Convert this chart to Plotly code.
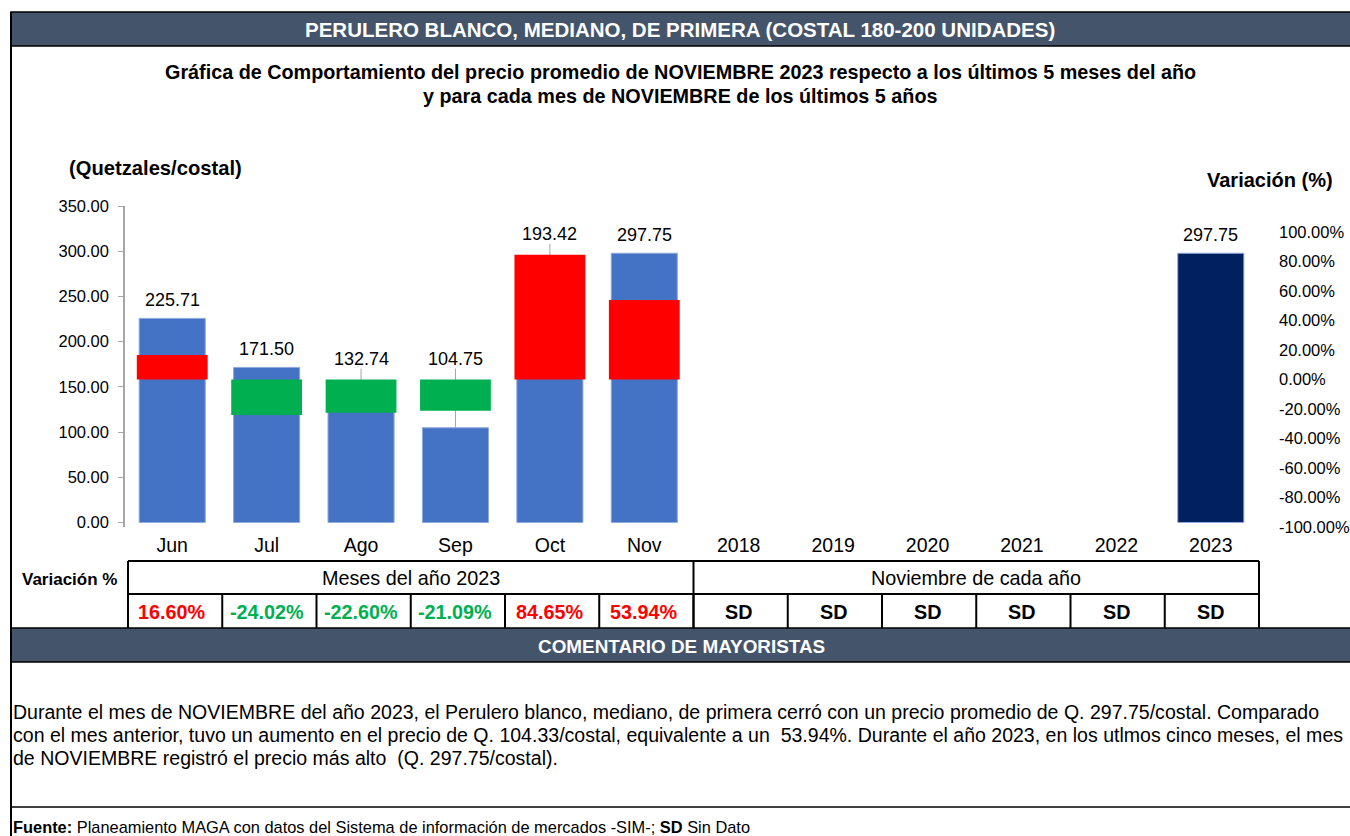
import plotly.graph_objects as go

# ---------------- data ----------------
categories = ["Jun", "Jul", "Ago", "Sep", "Oct", "Nov",
              "2018", "2019", "2020", "2021", "2022", "2023"]
prices = [225.71, 171.50, 132.74, 104.75, 193.42, 297.75,
          None, None, None, None, None, 297.75]
month_cats = ["Jun", "Jul", "Ago", "Sep", "Oct", "Nov"]
variations = [16.60, -24.02, -22.60, -21.09, 84.65, 53.94]
year_cats = ["2018", "2019", "2020", "2021", "2022", "2023"]
year_variation_text = ["SD", "SD", "SD", "SD", "SD", "SD"]
left_ticks = [0, 50, 100, 150, 200, 250, 300, 350]
right_ticks = [-100, -80, -60, -40, -20, 0, 20, 40, 60, 80, 100]

header = "PERULERO BLANCO, MEDIANO, DE PRIMERA (COSTAL 180-200 UNIDADES)"
title1 = "Gráfica de Comportamiento del precio promedio de NOVIEMBRE 2023 respecto a los últimos 5 meses del año"
title2 = "y para cada mes de NOVIEMBRE de los últimos 5 años"
comment_lines = [
    "Durante el mes de NOVIEMBRE del año 2023, el Perulero blanco, mediano, de primera cerró con un precio promedio de Q. 297.75/costal. Comparado",
    "con el mes anterior, tuvo un aumento en el precio de Q. 104.33/costal, equivalente a un  53.94%. Durante el año 2023, en los utlmos cinco meses, el mes",
    "de NOVIEMBRE registró el precio más alto  (Q. 297.75/costal).",
]
source = "<b>Fuente:</b> Planeamiento MAGA con datos del Sistema de información de mercados -SIM-; <b>SD</b> Sin Dato"

# ---------------- layout constants ----------------
W, H = 1350, 836
ML, MR, MT, MB = 125, 92, 206, 309
PW, PH = W - ML - MR, H - MT - MB
Y_RANGE = [-5, 350]
Y2_RANGE = [-100, 117.7]
FONT = "Liberation Sans, Arial, sans-serif"
DARK = "#44546A"
BLUE = "#4472C4"
NAVY = "#002060"
RED = "#FF0000"
GREEN = "#00B050"


def PX(x):
    return (x - ML) / PW


def PY(y):
    return (H - MB - y) / PH


def y2_to_y(v):
    return Y_RANGE[0] + (v - Y2_RANGE[0]) / (Y2_RANGE[1] - Y2_RANGE[0]) * (Y_RANGE[1] - Y_RANGE[0])


def cat_idx(c):
    return categories.index(c)


px_per_unit = PH / (Y_RANGE[1] - Y_RANGE[0])

fig = go.Figure()

bar_colors = [NAVY if c == "2023" else BLUE for c in categories]
fig.add_trace(go.Bar(
    x=categories, y=prices, width=0.70,
    marker=dict(color=bar_colors, line=dict(color="#8EA9DB", width=1)),
    yaxis="y", showlegend=False, hoverinfo="skip"))

# leader lines + data labels
annotations = []
for c, p in zip(categories, prices):
    if p is None:
        continue
    top = p
    moved = False
    if c in month_cats:
        v = variations[month_cats.index(c)]
        vt = y2_to_y(max(v, 0))
        if vt > p:
            top = vt
            moved = True
    shift = 21 if moved else 18
    if moved:
        end = top + (shift - 10) / px_per_unit
        fig.add_trace(go.Scatter(
            x=[c, c], y=[p, end], mode="lines",
            line=dict(color="#A6A6A6", width=1),
            yaxis="y", showlegend=False, hoverinfo="skip"))
    annotations.append(dict(
        x=cat_idx(c), y=top, xref="x", yref="y", yshift=shift, text=f"{p:.2f}",
        font=dict(family=FONT, size=18, color="#000000")))

var_colors = [RED if v > 0 else GREEN for v in variations]
fig.add_trace(go.Bar(
    x=month_cats, y=variations, base=0, width=0.75,
    marker=dict(color=var_colors, line=dict(width=0)),
    yaxis="y2", showlegend=False, hoverinfo="skip"))

# ---------------- shapes (frame / table) ----------------
shapes = []


def rect(x0, y0, x1, y1, fill, lw=1.5):
    shapes.append(dict(type="rect", xref="paper", yref="paper",
                       x0=PX(x0), x1=PX(x1), y0=PY(y0), y1=PY(y1),
                       fillcolor=fill, line=dict(color="#000000", width=lw), layer="below"))


def line(x0, y0, x1, y1, lw=2, color="#000000"):
    shapes.append(dict(type="line", xref="paper", yref="paper",
                       x0=PX(x0), x1=PX(x1), y0=PY(y0), y1=PY(y1),
                       line=dict(color=color, width=lw)))


rect(11, 12, 1352, 46, DARK)
rect(11, 628, 1352, 662, DARK)
line(11, 12, 11, 836)
line(11, 807, 1352, 807, lw=1.5)
# table
TL, TR = 128, 1259
line(TL, 561, TR, 561)
line(TL, 594, TR, 594)
line(TL, 561, TL, 628)
line(TR, 561, TR, 628)
line((TL + TR) / 2, 561, (TL + TR) / 2, 628)
cw = (TR - TL) / 12
for i in range(1, 12):
    line(TL + i * cw, 594, TL + i * cw, 628)

# ---------------- texts ----------------
annotations += [
    dict(x=PX(680), y=PY(29), text=f"<b>{header}</b>",
         font=dict(family=FONT, size=20.5, color="white")),
    dict(x=PX(680), y=PY(72), text=f"<b>{title1}</b>",
         font=dict(family=FONT, size=19.8, color="black")),
    dict(x=PX(680), y=PY(96), text=f"<b>{title2}</b>",
         font=dict(family=FONT, size=19.8, color="black")),
    dict(x=PX(155), y=PY(168), text="<b>(Quetzales/costal)</b>",
         font=dict(family=FONT, size=20.2, color="black")),
    dict(x=PX(1270), y=PY(180), text="<b>Variación (%)</b>",
         font=dict(family=FONT, size=20, color="black")),
    dict(x=PX(69), y=PY(579), text="<b>Variación %</b>",
         font=dict(family=FONT, size=17, color="black")),
    dict(x=PX((TL + (TL + TR) / 2) / 2), y=PY(578), text="Meses del año 2023",
         font=dict(family=FONT, size=19.8, color="black")),
    dict(x=PX(((TL + TR) / 2 + TR) / 2), y=PY(578), text="Noviembre de cada año",
         font=dict(family=FONT, size=19.8, color="black")),
    dict(x=PX(681), y=PY(646), text="<b>COMENTARIO DE MAYORISTAS</b>",
         font=dict(family=FONT, size=18.9, color="white")),
    dict(x=PX(11), y=PY(827), text=source, xanchor="left",
         font=dict(family=FONT, size=16.4, color="black")),
]
for i, ln in enumerate(comment_lines):
    annotations.append(dict(x=PX(11), y=PY(712 + 23 * i), text=ln, xanchor="left",
                            font=dict(family=FONT, size=19.55, color="black")))
for c, v, col in zip(month_cats, variations, var_colors):
    annotations.append(dict(x=cat_idx(c), xref="x", y=PY(612), text=f"<b>{v:.2f}%</b>",
                            font=dict(family=FONT, size=19.8, color=col)))
for c, t in zip(year_cats, year_variation_text):
    annotations.append(dict(x=cat_idx(c), xref="x", y=PY(612), text=f"<b>{t}</b>",
                            font=dict(family=FONT, size=19.8, color="black")))

for a in annotations:
    a.setdefault("xref", "paper")
    a.setdefault("yref", "paper")
    a.setdefault("showarrow", False)
    a.setdefault("xanchor", "center")
    a.setdefault("yanchor", "middle")

fig.update_layout(
    width=W, height=H, autosize=False,
    margin=dict(l=ML, r=MR, t=MT, b=MB, pad=0, autoexpand=False),
    paper_bgcolor="white", plot_bgcolor="white",
    barmode="overlay", bargap=0.3,
    font=dict(family=FONT, color="black"),
    showlegend=False,
    xaxis=dict(type="category", categoryorder="array", categoryarray=categories,
               range=[-0.5, len(categories) - 0.5], showline=False, ticks="",
               showgrid=False, zeroline=False, ticklabelstandoff=4, automargin=False,
               tickfont=dict(family=FONT, size=19.5, color="black")),
    yaxis=dict(range=Y_RANGE, tickvals=left_ticks,
               ticktext=[f"{v:.2f}" for v in left_ticks],
               showline=True, linecolor="#A6A6A6", linewidth=1.5,
               ticks="outside", ticklen=5, tickcolor="#A6A6A6",
               showgrid=False, zeroline=False, ticklabelstandoff=6, automargin=False,
               tickfont=dict(family=FONT, size=16.5, color="black")),
    yaxis2=dict(range=Y2_RANGE, overlaying="y", side="right",
                tickvals=right_ticks,
                ticktext=[f"{v:.2f}%" for v in right_ticks],
                showline=False, ticks="", showgrid=False, zeroline=False,
                ticklabelstandoff=20, automargin=False,
                tickfont=dict(family=FONT, size=16.5, color="black")),
    shapes=shapes, annotations=annotations,
)

post = (
    "document.documentElement.style.overflow='hidden';"
    "document.body.style.overflow='hidden';"
    "document.body.style.margin='0';document.body.style.padding='0';"
)

fig.write_html(
    "out.html",
    config={"displayModeBar": False, "responsive": False},
    post_script=post,
)
